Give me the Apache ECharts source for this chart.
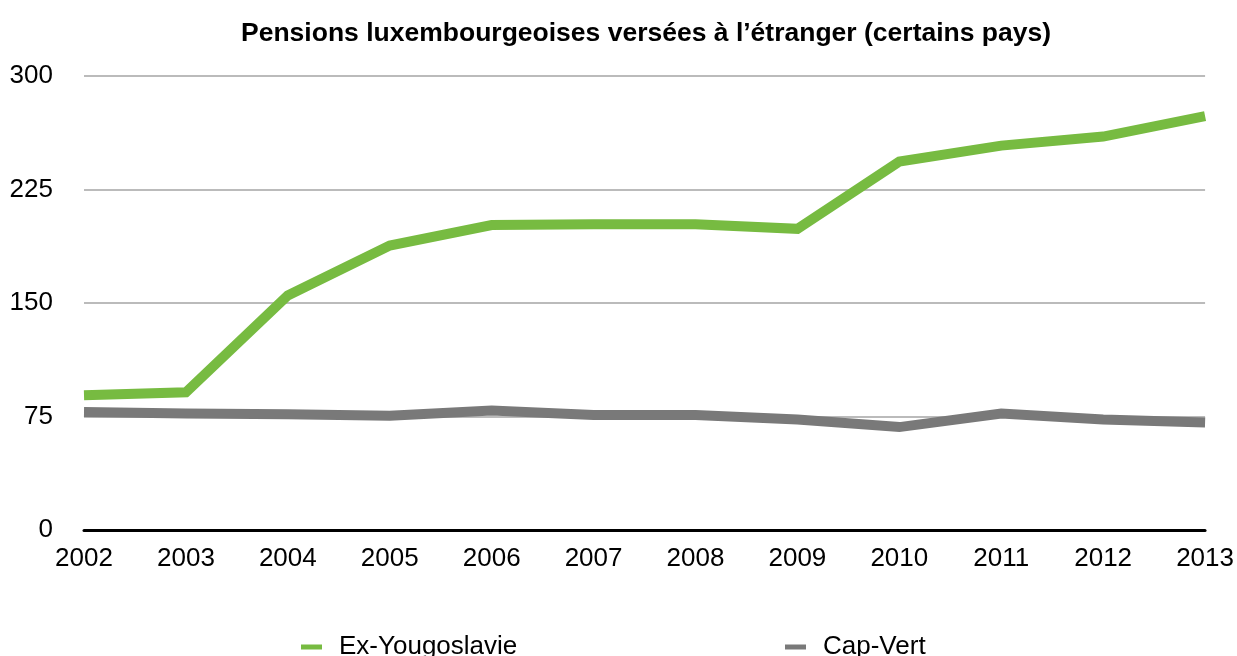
<!DOCTYPE html>
<html>
<head>
<meta charset="utf-8">
<script src="https://cdn.jsdelivr.net/npm/echarts@6/dist/echarts.min.js"></script>
<style>
  html, body { margin: 0; padding: 0; background: #fff; }
  #chart { width: 1237px; height: 656px; }
</style>
</head>
<body>
<div id="chart"></div>
<script>
// Years on the category axis
const years = ['2002', '2003', '2004', '2005', '2006', '2007', '2008', '2009', '2010', '2011', '2012', '2013'];

// Pensions paid abroad, by destination country
const exYougoslavie = [89, 91, 155, 188, 201.5, 202, 202, 199, 243.5, 254, 260, 273.5];
const capVert = [78, 77, 76.5, 75.5, 79, 76, 76, 73, 68, 77, 73, 71];

// Value axis ticks
const yMin = 0, yMax = 300, yStep = 75;

const FONT = '"Liberation Sans", Arial, Helvetica, sans-serif';

const chart = echarts.init(document.getElementById('chart'));
chart.setOption({
  animation: false,
  backgroundColor: '#ffffff',
  title: {
    text: 'Pensions luxembourgeoises versées à l’étranger (certains pays)',
    left: 236,
    top: 15,
    textStyle: { fontFamily: FONT, fontSize: 26.5, fontWeight: 'bold', color: '#000' }
  },
  legend: [
    {
      data: ['Ex-Yougoslavie'],
      left: 296, top: 629,
      icon: 'rect', itemWidth: 21, itemHeight: 5,
      textStyle: { fontFamily: FONT, fontSize: 26, color: '#000', padding: [0, 0, 0, 12] }
    },
    {
      data: ['Cap-Vert'],
      left: 780, top: 629,
      icon: 'rect', itemWidth: 21, itemHeight: 5,
      textStyle: { fontFamily: FONT, fontSize: 26, color: '#000', padding: [0, 0, 0, 12] }
    }
  ],
  grid: { left: 84, right: 28, top: 76, bottom: 126, containLabel: false },
  xAxis: {
    type: 'category',
    data: years,
    boundaryGap: false,
    axisLine: { lineStyle: { color: '#000', width: 3 } },
    axisTick: { show: false },
    axisLabel: { margin: 16, fontFamily: FONT, fontSize: 26, color: '#000', interval: 0 },
    splitLine: { show: false }
  },
  yAxis: {
    type: 'value',
    min: yMin, max: yMax, interval: yStep,
    axisLine: { show: false },
    axisTick: { show: false },
    axisLabel: { margin: 31, fontFamily: FONT, fontSize: 26, color: '#000' },
    splitLine: { lineStyle: { color: '#bbbbbb', width: 2 } }
  },
  series: [
    {
      name: 'Ex-Yougoslavie',
      type: 'line',
      data: exYougoslavie,
      symbol: 'none',
      lineStyle: { color: '#77bb41', width: 10, cap: 'butt', join: 'miter' },
      itemStyle: { color: '#77bb41' },
      z: 3
    },
    {
      name: 'Cap-Vert',
      type: 'line',
      data: capVert,
      symbol: 'none',
      lineStyle: { color: '#797979', width: 10, cap: 'butt', join: 'miter' },
      itemStyle: { color: '#797979' },
      z: 2
    }
  ]
});
</script>
</body>
</html>
